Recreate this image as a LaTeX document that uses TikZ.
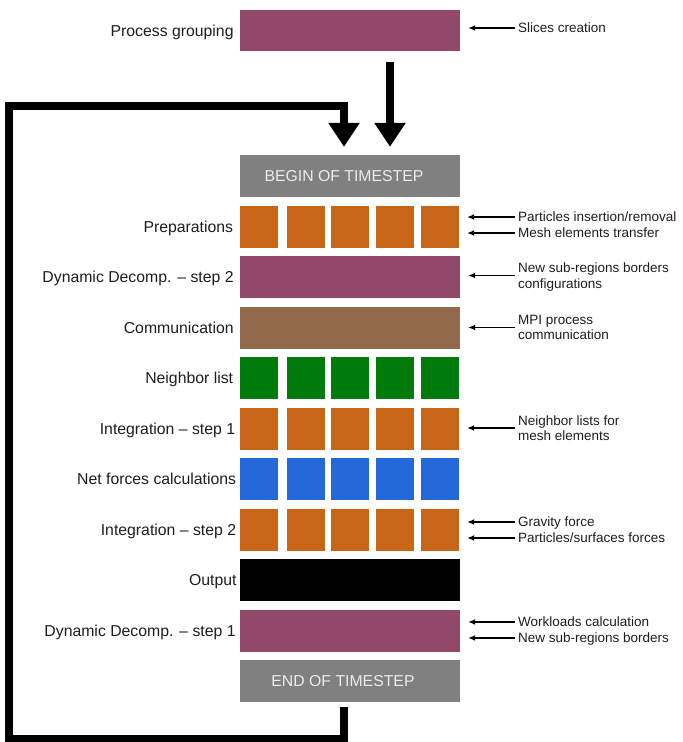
\documentclass[tikz,border=0pt]{standalone}
\usepackage{fontspec}
\setmainfont{Liberation Sans}
\usetikzlibrary{arrows.meta,calc}

\definecolor{plum}{RGB}{147,72,105}
\definecolor{rust}{RGB}{201,101,22}
\definecolor{earth}{RGB}{145,106,74}
\definecolor{leaf}{RGB}{0,122,10}
\definecolor{sky}{RGB}{36,105,218}
\definecolor{stepgray}{RGB}{128,128,128}
\definecolor{steptext}{RGB}{236,236,236}
\definecolor{ink}{RGB}{30,30,30}

\begin{document}
\begin{tikzpicture}[x=1pt,y=-1pt,
  bar/.style={rectangle, minimum width=220pt, minimum height=42pt, inner sep=0pt},
  sq/.style={rectangle, minimum width=38pt, minimum height=42pt, inner sep=0pt},
  leftlbl/.style={anchor=east, inner sep=1pt, text depth=0pt, text=ink, font=\fontsize{15.8}{18}\selectfont},
  note/.style={anchor=west, inner sep=3pt, align=left, text depth=0pt, text=ink, font=\fontsize{13.5}{15.5}\selectfont},
  ann/.style={-{Latex[length=7pt,width=6pt]}, line width=1.3pt, shorten >=8pt},
  bigflow/.style={line width=8pt, line join=miter, -{Triangle[width=30pt,length=24pt]}},
  stepbar/.style={bar, fill=stepgray, text=steptext, text depth=0pt, font=\fontsize{15.8}{18}\selectfont}]

\useasboundingbox (0,0) rectangle (683,742);

% process grouping
\node[bar, fill=plum, minimum height=41pt] (pg) at (350,30.5) {};
\node[leftlbl] (pgl) at ([xshift=-5pt]pg.west) {Process grouping};
\node[note] (n0) at (515,28) {Slices creation};
\draw[ann] (n0.west) -- (n0.west -| pg.east);

% begin of timestep
\node[stepbar] (begin) at (350,176) {\hspace*{-12pt}BEGIN OF TIMESTEP};

% preparations
\foreach \i/\x in {1/258.5,2/305.5,3/350,4/395,5/440}
  \node[sq, fill=rust] (prep\i) at (\x,226.5) {};
\node[leftlbl] (prepl) at ([xshift=-5pt]prep1.west) {Preparations};
\node[note] (n1) at (515,217) {Particles insertion/removal};
\node[note] (n2) at (515,233) {Mesh elements transfer};
\draw[ann] (n1.west) -- (n1.west -| prep5.east);
\draw[ann] (n2.west) -- (n2.west -| prep5.east);

% dynamic decomposition, step 2
\node[bar, fill=plum] (dd2) at (350,277) {};
\node[leftlbl] (dd2l) at ([xshift=-5pt]dd2.west) {Dynamic Decomp. -- step 2};
\node[note] (n3) at (515,275.5) {New sub-regions borders\\configurations};
\draw[ann] (n3.west) -- (n3.west -| dd2.east);

% communication
\node[bar, fill=earth] (comm) at (350,327.5) {};
\node[leftlbl] (comml) at ([xshift=-5pt]comm.west) {Communication};
\node[note] (n4) at (515,327.5) {MPI process\\communication};
\draw[ann] (n4.west) -- (n4.west -| comm.east);

% neighbor list
\foreach \i/\x in {1/258.5,2/305.5,3/350,4/395,5/440}
  \node[sq, fill=leaf] (nb\i) at (\x,378) {};
\node[leftlbl] (nbl) at ([xshift=-5pt]nb1.west) {Neighbor list};

% integration, step 1
\foreach \i/\x in {1/258.5,2/305.5,3/350,4/395,5/440}
  \node[sq, fill=rust] (ia\i) at (\x,428.5) {};
\node[leftlbl] (ial) at ([xshift=-3pt]ia1.west) {Integration -- step 1};
\node[note] (n5) at (515,428) {Neighbor lists for\\mesh elements};
\draw[ann] (n5.west) -- (n5.west -| ia5.east);

% net forces
\foreach \i/\x in {1/258.5,2/305.5,3/350,4/395,5/440}
  \node[sq, fill=sky] (nf\i) at (\x,479) {};
\node[leftlbl] (nfl) at ([xshift=-2pt]nf1.west) {Net forces calculations};

% integration, step 2
\foreach \i/\x in {1/258.5,2/305.5,3/350,4/395,5/440}
  \node[sq, fill=rust] (ib\i) at (\x,529.5) {};
\node[leftlbl] (ibl) at ([xshift=-2pt]ib1.west) {Integration -- step 2};
\node[note] (n6) at (515,522) {Gravity force};
\node[note] (n7) at (515,538) {Particles/surfaces forces};
\draw[ann] (n6.west) -- (n6.west -| ib5.east);
\draw[ann] (n7.west) -- (n7.west -| ib5.east);

% output
\node[bar, fill=black] (out) at (350,580) {};
\node[leftlbl] (outl) at ([xshift=-2pt]out.west) {Output};

% dynamic decomposition, step 1
\node[bar, fill=plum] (dd1) at (350,630.5) {};
\node[leftlbl] (dd1l) at ([xshift=-3pt]dd1.west) {Dynamic Decomp. -- step 1};
\node[note] (n8) at (515,622) {Workloads calculation};
\node[note] (n9) at (515,638) {New sub-regions borders};
\draw[ann] (n8.west) -- (n8.west -| dd1.east);
\draw[ann] (n9.west) -- (n9.west -| dd1.east);

% end of timestep
\node[stepbar] (end) at (350,681) {\hspace*{-14pt}END OF TIMESTEP};

% flow arrows
\coordinate (feedin) at ($(pg.south)+(40,11)$);
\coordinate (feedtip) at ($(begin.north)+(40,-8)$);
\draw[bigflow] (feedin) -- (feedtip);

\coordinate (loopstart) at ($(end.south)+(-6,5)$);
\coordinate (looptip) at ($(begin.north)+(-6,-8)$);
\draw[bigflow] (loopstart) -- ++(0,32) -| (9,106) -| (looptip);

\end{tikzpicture}
\end{document}
